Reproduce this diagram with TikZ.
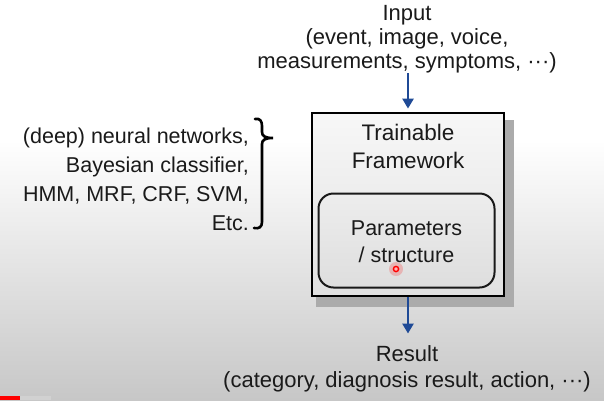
\documentclass[tikz,border=0pt]{standalone}
\usepackage{fontspec}
\setmainfont{Liberation Sans}
\usetikzlibrary{arrows.meta}
\definecolor{arrblue}{HTML}{1F4A96}
\definecolor{txtc}{HTML}{1A1A1A}
\begin{document}
\begin{tikzpicture}[x=1pt,y=-1pt,
  txt/.style={font=\fontsize{22}{24}\selectfont, text=txtc, inner sep=0pt, align=center},
  arr/.style={draw=arrblue, line width=2.6pt, -{Triangle[length=10pt,width=11pt]}},
  frame/.style={draw=black, line width=2.8pt, top color=white!97!black, bottom color=white!88!black, minimum width=192pt, minimum height=183pt, inner sep=0pt},
  inbox/.style={draw=black!90, line width=2pt, rounded corners=15pt, top color=white!93!black, bottom color=white!87!black, minimum width=176pt, minimum height=94pt, inner sep=0pt},
  brace/.style={draw=black, line width=2.6pt, line cap=round}]
\useasboundingbox (0,0) rectangle (604,400);
\fill[white] (0,0) rectangle (604,140);
\shade[top color=white, bottom color=white!78!black] (0,140) rectangle (604,400);
% shadow
\fill[black!33] (316,120) rectangle (514,307);
% frame
\node[frame] (frame) at (408,204.5) {};
\node[txt, font=\fontsize{22.5}{28}\selectfont] (title) at (408,146.5) {Trainable\\Framework};
\node[inbox] (params) at (406.5,240.5) {};
\node[txt, font=\fontsize{21.5}{27}\selectfont] (ptext) at (406.5,241.5) {Parameters\\/ structure};
% input
\node[txt] (input) at (407,39) {Input\\(event, image, voice,\\measurements, symptoms, ···)};
\draw[arr, shorten >=3pt] (input.south -| frame.north) -- (frame.north);
% result
\node[txt, font=\fontsize{22}{26}\selectfont] (result) at (407,369) {Result\\(category, diagnosis result, action, ···)};
\draw[arr, shorten >=12pt] (frame.south) -- (result.north -| frame.south);
% left list
\node[txt, align=right, anchor=east, font=\fontsize{21.5}{29}\selectfont] (algos) at (249,179) {(deep) neural networks,\\Bayesian classifier,\\HMM, MRF, CRF, SVM,\\Etc.};
\draw[brace] (255,119) .. controls (260,118) and (262,121) .. (262,126) -- (262,132) .. controls (262,136) and (265,138) .. (273,138) .. controls (265,138) and (262,140) .. (262,144) -- (262,222) .. controls (262,227) and (259,229) .. (254,228);
% pointer
\fill[red, opacity=0.2] (396,269) circle (7);
\draw[red, line width=1.4pt, fill=red!30] (396,269) circle (2.6);
% progress bar
\fill[red] (0,396) rectangle (20,400);
\fill[white!82!black] (20,396) rectangle (51,400);
\end{tikzpicture}
\end{document}
